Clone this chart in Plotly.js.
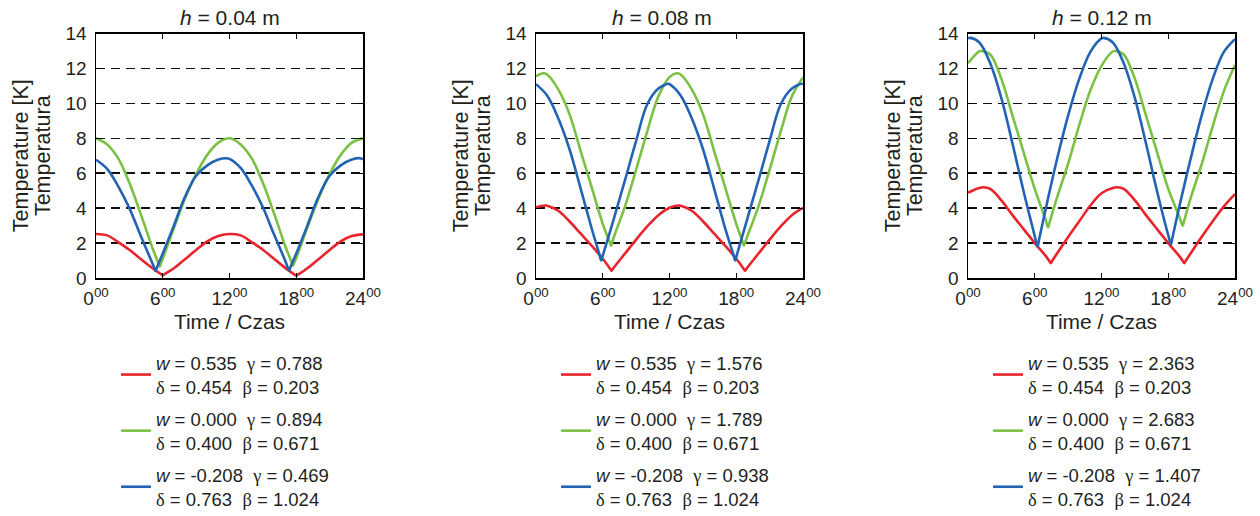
<!DOCTYPE html>
<html>
<head>
<meta charset="utf-8">
<script src="https://cdn.plot.ly/plotly-3.0.1.min.js"></script>
<style>html,body{margin:0;padding:0;background:#fff;}#chart{width:1260px;height:516px;}</style>
</head>
<body>
<div id="chart"></div>
<script>
// ---------- data ----------
const panelTitles = ["<i>h</i> = 0.04 m", "<i>h</i> = 0.08 m", "<i>h</i> = 0.12 m"];
const timeTickVals = [0, 6, 12, 18, 24];
const timeTickText = ["0<sup>00</sup>", "6<sup>00</sup>", "12<sup>00</sup>", "18<sup>00</sup>", "24<sup>00</sup>"];

// h = 0.04 m
const red1_t   = [0,1,2,3,4,5,5.88,6,6.12,7,8,9,10,11,12,13,14,15,16,17,17.88,18,18.12,19,20,21,22,23,24];
const red1     = [2.52,2.44,2.05,1.62,1.1,0.6,0.2,0.15,0.2,0.56,1.08,1.6,2.1,2.4,2.52,2.44,2.05,1.62,1.1,0.58,0.18,0.13,0.18,0.56,1.08,1.6,2.1,2.4,2.5];
const green1_t = [0,1,2,3,4,5,5.6,5.72,5.84,6,7,8,9,10,11,12,13,14,15,16,17,17.58,17.7,17.82,18,19,20,21,22,23,24];
const green1   = [8.0,7.65,6.85,5.45,3.7,1.85,0.85,0.65,0.84,1.1,2.85,4.55,5.95,7.05,7.75,8.0,7.65,6.85,5.45,3.7,1.85,0.9,0.7,0.89,1.15,2.9,4.55,5.95,7.05,7.75,8.0];
const blue1_t  = [0,1,2,3,4,5,5.23,5.35,5.47,6,7,8,9,10,11,11.7,12,13,14,15,16,17,17.23,17.35,17.47,18,19,20,21,22,23,23.7,24];
const blue1    = [6.77,6.25,5.25,4.0,2.45,0.95,0.59,0.4,0.58,1.4,3.0,4.65,5.85,6.45,6.78,6.86,6.82,6.3,5.3,4.05,2.5,1.0,0.61,0.42,0.6,1.4,3.0,4.65,5.85,6.45,6.78,6.86,6.8];

// h = 0.08 m
const red2_t   = [0,0.75,1,2,3,4,5,6,6.68,6.8,6.92,7,8,9,10,11,12,12.75,13,14,15,16,17,18,18.68,18.8,18.92,19,20,21,22,23,24];
const red2     = [4.05,4.15,4.13,3.85,3.25,2.55,1.85,1.1,0.52,0.42,0.53,0.6,1.4,2.2,2.95,3.6,4.02,4.15,4.13,3.85,3.25,2.55,1.85,1.1,0.52,0.42,0.53,0.6,1.4,2.2,2.95,3.6,4.02];
const green2_t = [0,0.65,1,2,3,4,5,6,6.63,6.75,6.87,7,8,9,10,11,12,12.65,13,14,15,16,17,18,18.58,18.7,18.82,19,20,21,22,23,24];
const green2   = [11.55,11.72,11.65,10.8,9.4,7.3,5.2,3.1,2.05,1.85,2.09,2.35,4.1,6.2,8.4,10.4,11.5,11.72,11.65,10.8,9.4,7.3,5.2,3.1,2.06,1.85,2.07,2.4,4.1,6.2,8.4,10.4,11.48];
const blue2_t  = [0,1,2,3,4,5,5.74,5.86,6,7,8,9,10,11,11.9,12,13,14,15,16,17,17.78,17.9,18,19,20,21,22,23,23.9,24];
const blue2    = [11.1,10.45,9.15,7.4,5.15,2.85,1.26,1.0,1.28,3.4,5.6,7.85,9.95,10.85,11.12,11.1,10.45,9.15,7.4,5.15,2.85,1.26,1.0,1.2,3.4,5.6,7.85,9.95,10.85,11.12,11.1];

// h = 0.12 m
const red3_t   = [0,1,1.4,2,3,4,5,6,7,7.32,7.44,7.56,8,9,10,11,12,13,13.45,14,15,16,17,18,19,19.32,19.44,19.56,20,21,22,23,24];
const red3     = [4.88,5.15,5.2,5.1,4.45,3.6,2.8,2.0,1.25,0.96,0.85,0.97,1.4,2.35,3.25,4.15,4.85,5.15,5.2,5.1,4.45,3.6,2.8,2.0,1.25,0.96,0.85,0.97,1.4,2.35,3.25,4.1,4.8];
const green3_t = [0,1,1.2,2,3,4,5,6,7,7.2,7.32,8,9,10,11,12,13,13.25,14,15,16,17,18,19,19.3,19.42,20,21,22,23,24];
const green3   = [12.3,12.97,13.0,12.8,11.4,9.3,7.2,5.1,3.3,2.9,3.15,4.6,6.55,8.75,10.75,12.15,12.97,13.0,12.8,11.4,9.3,7.2,5.1,3.5,3.0,3.26,4.55,6.5,8.7,10.7,12.2];
const blue3_t  = [0,0.2,1,2,3,4,5,6,6.25,6.37,7,8,9,10,11,12,12.2,13,14,15,16,17,18,18.25,18.37,19,20,21,22,23,24];
const blue3    = [13.72,13.75,13.5,12.3,10.3,7.7,4.95,2.4,1.8,2.15,4.0,6.8,9.3,11.4,12.95,13.72,13.75,13.5,12.3,10.3,7.7,4.95,2.45,1.95,2.29,4.1,6.8,9.3,11.4,12.95,13.68];

// legend parameters
const wVals     = ["0.535", "0.000", "-0.208"];
const deltaVals = ["0.454", "0.400", "0.763"];
const betaVals  = ["0.203", "0.671", "1.024"];
const gammaVals = [["0.788","0.894","0.469"], ["1.576","1.789","0.938"], ["2.363","2.683","1.407"]];

// ---------- drawing ----------
const W = 1260, H = 516;
const fx = v => v / W, fy = v => 1 - v / H;
const FONT = "Liberation Sans, Arial, Helvetica, sans-serif";
const TXT = '#231f20';
const colors = ["#e8242c", "#7bc143", "#2263b4"];
const NB = "\u00a0";
const greek = g => '<span style="font-family:Liberation Serif, Times New Roman, serif">' + g + '</span>';
function legendName(i, p) {
  return '<i>w</i> = ' + wVals[i] + NB + NB + greek('γ') + ' = ' + gammaVals[p][i] + '<br>' +
         greek('δ') + ' = ' + deltaVals[i] + NB + NB + greek('β') + ' = ' + betaVals[i];
}
const yTitle = '<span style="font-size:21.5px">Temperature [K]</span><br><span style="font-size:21.5px">Temperatura</span>';

const series = [
  [[red1_t, red1], [green1_t, green1], [blue1_t, blue1]],
  [[red2_t, red2], [green2_t, green2], [blue2_t, blue2]],
  [[red3_t, red3], [green3_t, green3], [blue3_t, blue3]]
];

const plotLeft = [96, 536, 968];
const plotRight = [363, 803, 1235];
const legendX = [116, 556, 988];
const titleX = [229.5, 662, 1102];

const traces = [];
series.forEach((ps, p) => {
  ps.forEach((s, i) => {
    traces.push({
      x: s[0], y: s[1], type: 'scatter', mode: 'lines',
      line: {color: colors[i], width: 2.6, shape: 'spline', smoothing: 1},
      xaxis: p === 0 ? 'x' : 'x' + (p + 1),
      yaxis: p === 0 ? 'y' : 'y' + (p + 1),
      legend: p === 0 ? 'legend' : 'legend' + (p + 1),
      legendgroup: 'g' + p + '_' + i,
      name: legendName(i, p),
      showlegend: true
    });
  });
});

const layout = {
  width: W, height: H,
  margin: {l: 0, r: 0, t: 0, b: 0, autoexpand: false},
  paper_bgcolor: '#fff', plot_bgcolor: '#fff',
  font: {family: FONT, color: TXT, size: 18},
  annotations: [],
  showlegend: true
};

for (let p = 0; p < 3; p++) {
  const sx = p === 0 ? '' : String(p + 1);
  layout['xaxis' + sx] = {
    domain: [fx(plotLeft[p]), fx(plotRight[p])],
    range: [0, 24], anchor: 'y' + sx,
    tickmode: 'array', tickvals: timeTickVals, ticktext: timeTickText,
    ticks: 'inside', ticklen: 5, tickwidth: 1, tickcolor: '#000',
    showline: true, linecolor: '#000', linewidth: 1.5, mirror: 'ticks',
    showgrid: false, zeroline: false, ticklabelstandoff: 3,
    tickfont: {size: 19, family: FONT, color: TXT},
    title: {text: 'Time / Czas', font: {size: 21, family: FONT, color: TXT}, standoff: 6},
    automargin: false, fixedrange: true
  };
  layout['yaxis' + sx] = {
    domain: [fy(278), fy(33.5)],
    range: [0, 14], anchor: 'x' + sx,
    tickmode: 'linear', tick0: 0, dtick: 2,
    ticks: 'inside', ticklen: 5, tickwidth: 1, tickcolor: '#000',
    showline: true, linecolor: '#000', linewidth: 1.5, mirror: 'ticks',
    showgrid: true, gridcolor: '#111', gridwidth: 1.5, griddash: '9px,6px',
    zeroline: false, ticklabelstandoff: 4,
    tickfont: {size: 19, family: FONT, color: TXT},
    title: {text: yTitle, font: {size: 17.3, family: FONT, color: TXT}, standoff: 10},
    automargin: false, fixedrange: true
  };
  layout[p === 0 ? 'legend' : 'legend' + (p + 1)] = {
    x: fx(legendX[p]), y: fy(344), xref: 'paper', yref: 'paper',
    xanchor: 'left', yanchor: 'top',
    font: {size: 18.5, family: FONT, color: TXT},
    valign: 'middle', bgcolor: 'rgba(0,0,0,0)', borderwidth: 0,
    tracegroupgap: 5, itemwidth: 30, traceorder: 'grouped'
  };
  layout.annotations.push({
    text: panelTitles[p], xref: 'paper', yref: 'paper',
    x: fx(titleX[p]), y: fy(17), xanchor: 'center', yanchor: 'middle',
    showarrow: false, font: {size: 21, family: FONT, color: TXT}
  });
}

Plotly.newPlot('chart', traces, layout, {staticPlot: true, displayModeBar: false});
</script>
</body>
</html>
